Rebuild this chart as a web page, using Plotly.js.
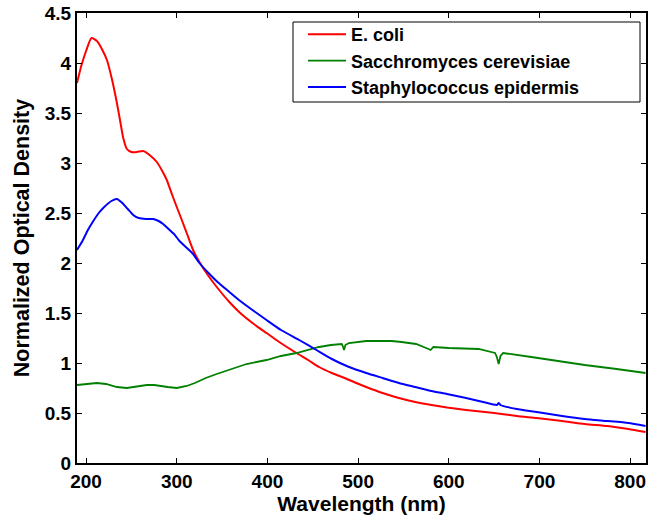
<!DOCTYPE html>
<html>
<head>
<meta charset="utf-8">
<script src="https://cdn.plot.ly/plotly-3.0.1.min.js"></script>
<style>html,body{margin:0;padding:0;background:#fff;}#chart{width:649px;height:523px;}</style>
</head>
<body>
<div id="chart"></div>
<script>
var ecoliX = [190,195,200,206,212,218,223,229,234,238,241,245,250,256,263,270,278,284,289,295,300,306,311,318,325,335,345,358,370,385,399,413,432,445,457,471,485,498,509,527,545,563,581,598,619,650,675,697,725,750,775,798,817];
var ecoliY = [3.80,3.98,4.12,4.25,4.22,4.13,4.03,3.82,3.60,3.40,3.25,3.14,3.11,3.11,3.12,3.08,3.01,2.92,2.83,2.68,2.56,2.42,2.30,2.13,2.01,1.87,1.75,1.61,1.50,1.39,1.30,1.21,1.10,1.03,0.96,0.90,0.85,0.80,0.76,0.70,0.65,0.61,0.58,0.555,0.53,0.50,0.47,0.45,0.42,0.39,0.37,0.34,0.31];

var yeastX = [190,200,212,222,234,245,252,260,267,275,281,290,300,306,311,320,332,344,360,377,399,415,432,445,457,470,482,483.5,484.5,486,490,509,537,548,564,575,580,583,600,633,647,651,653,655,657,660,691,720,750,785,817];
var yeastY = [0.78,0.79,0.80,0.79,0.76,0.75,0.76,0.77,0.78,0.78,0.77,0.76,0.75,0.76,0.77,0.80,0.85,0.89,0.94,0.99,1.03,1.07,1.10,1.13,1.16,1.18,1.19,1.16,1.13,1.18,1.20,1.22,1.22,1.21,1.19,1.15,1.13,1.16,1.15,1.14,1.11,1.10,1.06,0.99,1.07,1.10,1.06,1.02,0.98,0.94,0.90];

var staphX = [190,196,202,208,214,220,228,234,240,246,252,258,266,274,280,285,291,297,303,310,318,325,335,345,358,370,385,399,415,435,454,471,490,509,527,545,563,581,598,619,638,653,655,657,675,697,725,750,775,798,817];
var staphY = [2.13,2.22,2.33,2.42,2.50,2.56,2.62,2.64,2.60,2.54,2.48,2.45,2.44,2.44,2.42,2.39,2.34,2.29,2.22,2.16,2.09,2.00,1.90,1.81,1.71,1.62,1.52,1.43,1.33,1.23,1.13,1.04,0.96,0.90,0.85,0.80,0.76,0.72,0.69,0.65,0.61,0.58,0.60,0.58,0.54,0.51,0.47,0.44,0.42,0.40,0.37];

var seriesNames = ['E. coli','Sacchromyces cerevisiae','Staphylococcus epidermis'];
var xTicks = [200,300,400,500,600,700,800];
var yTicks = [0,0.5,1,1.5,2,2.5,3,3.5,4,4.5];
var yTickText = ['0','0.5','1','1.5','2','2.5','3','3.5','4','4.5'];

var traces = [
  {x: ecoliX, y: ecoliY, name: seriesNames[0], mode: 'lines', line: {color: '#ff0000', width: 2, shape: 'spline', smoothing: 0.6}},
  {x: yeastX, y: yeastY, name: seriesNames[1], mode: 'lines', line: {color: '#008000', width: 1.8}},
  {x: staphX, y: staphY, name: seriesNames[2], mode: 'lines', line: {color: '#0000ff', width: 2, shape: 'spline', smoothing: 0.5}}
];

var fontFam = 'Liberation Sans, Arial, sans-serif';
function f(size) { return {family: fontFam, size: size, color: '#000', weight: 'bold'}; }
// plot area in pixels: left 77, top 13, width 569, height 450
function px2x(p) { return (p - 77) / 569; }
function px2y(p) { return (463 - p) / 450; }

var layout = {
  width: 649, height: 523,
  margin: {l: 77, r: 3, t: 13, b: 60, pad: 0},
  paper_bgcolor: '#fff', plot_bgcolor: '#fff',
  font: f(18),
  showlegend: true,
  legend: {
    x: px2x(303), y: px2y(16), xanchor: 'left', yanchor: 'top',
    bgcolor: 'rgba(0,0,0,0)', borderwidth: 0,
    font: f(18),
    itemwidth: 38, tracegroupgap: 0
  },
  shapes: [{
    type: 'rect', xref: 'paper', yref: 'paper',
    x0: px2x(293), x1: px2x(640), y0: px2y(102), y1: px2y(22),
    line: {color: '#000', width: 1}, fillcolor: '#fff', layer: 'below'
  }],
  xaxis: {
    range: [190, 817.5], tickvals: xTicks, ticktext: xTicks.map(String),
    ticks: 'inside', ticklen: 5, tickwidth: 1, tickcolor: '#000',
    showline: true, linecolor: '#000', linewidth: 2, mirror: 'ticks',
    showgrid: false, zeroline: false,
    tickfont: f(19),
    title: {text: 'Wavelength (nm)', font: f(21), standoff: 5}
  },
  yaxis: {
    range: [0, 4.5], tickvals: yTicks, ticktext: yTickText,
    ticks: 'inside', ticklen: 5, tickwidth: 1, tickcolor: '#000',
    showline: true, linecolor: '#000', linewidth: 2, mirror: 'ticks',
    showgrid: false, zeroline: false,
    tickfont: f(19),
    title: {text: 'Normalized Optical Density', font: f(21.5), standoff: 9}
  }
};

Plotly.newPlot('chart', traces, layout, {staticPlot: true, displayModeBar: false});
</script>
</body>
</html>
